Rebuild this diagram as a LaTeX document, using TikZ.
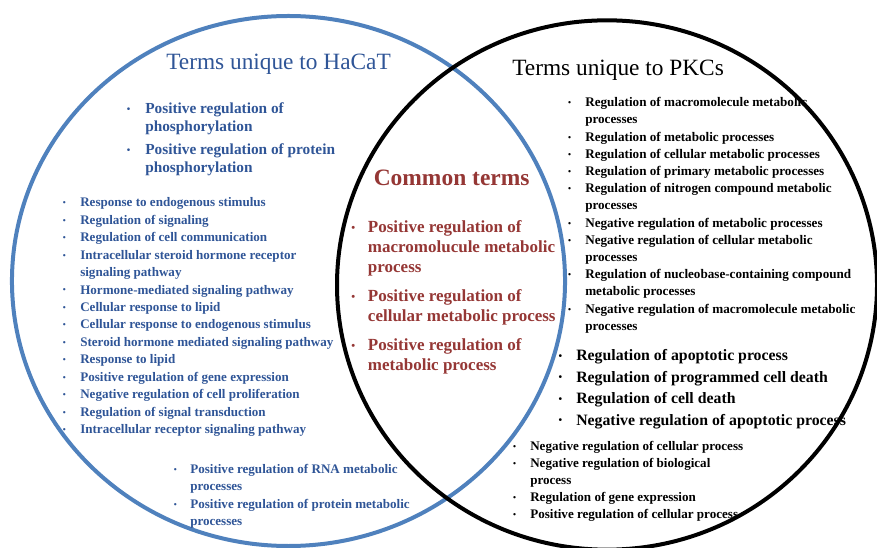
\documentclass[tikz,border=0pt]{standalone}
\usepackage{fontspec}
\setmainfont{Liberation Serif}
\usepackage{xcolor}
\definecolor{hacatline}{HTML}{4F81BD}
\definecolor{hacattext}{HTML}{2F5597}
\definecolor{commonred}{HTML}{953735}
\newcommand{\itm}[1]{\llap{\raisebox{0.08em}{\scalebox{0.65}{\textbullet}}\hspace{#1}}}

\begin{document}
\begin{tikzpicture}[
    x=0.75pt, y=-0.75pt,
    venn/.style={line width=3pt},
    heading/.style={anchor=base west, inner sep=0pt, font=\fontsize{17.5}{21}\selectfont},
    terms/.style={anchor=base west, inner sep=0pt},
    smallterms/.style={terms, font=\fontsize{9.8}{13.1}\selectfont\bfseries},
    midterms/.style={terms, font=\fontsize{11.5}{13.5}\selectfont\bfseries},
    bigterms/.style={terms, font=\fontsize{11.85}{16.1}\selectfont\bfseries},
    commonterms/.style={terms, text=commonred, font=\fontsize{12.75}{15}\selectfont\bfseries}
]
\useasboundingbox (0,0) rectangle (877,548);

% Circles
\draw[venn, hacatline] (288.5,281) ellipse [x radius=207.4pt, y radius=198.75pt];
\draw[venn, black] (607,285) ellipse [x radius=202.5pt, y radius=198.5pt];

% Headings
\node[heading, text=hacattext] (hacat) at (166,69.3) {Terms unique to HaCaT};
\node[heading] (pkc) at (512,76) {Terms unique to PKCs};
\node[heading, text=commonred, font=\fontsize{17.6}{21}\selectfont\bfseries] (common) at (373.5,186) {Common terms};

% HaCaT terms
\node[midterms, text=hacattext] (hacatphos) at (145,114) {\begin{tabular}[t]{@{}l@{}}
\itm{11.2pt}Positive regulation of\\
phosphorylation\\[3.75pt]
\itm{11.2pt}Positive regulation of protein\\
phosphorylation
\end{tabular}};
\node[smallterms, text=hacattext, font=\fontsize{9.8}{13.1}\selectfont\bfseries] (hacatsig) at (80,206.7) {\begin{tabular}[t]{@{}l@{}}
\itm{10.8pt}Response to endogenous stimulus\\
\itm{10.8pt}Regulation of signaling\\
\itm{10.8pt}Regulation of cell communication\\
\itm{10.8pt}Intracellular steroid hormone receptor\\
signaling pathway\\
\itm{10.8pt}Hormone-mediated signaling pathway\\
\itm{10.8pt}Cellular response to lipid\\
\itm{10.8pt}Cellular response to endogenous stimulus\\
\itm{10.8pt}Steroid hormone mediated signaling pathway\\
\itm{10.8pt}Response to lipid\\
\itm{10.8pt}Positive regulation of gene expression\\
\itm{10.8pt}Negative regulation of cell proliferation\\
\itm{10.8pt}Regulation of signal transduction\\
\itm{10.8pt}Intracellular receptor signaling pathway
\end{tabular}};
\node[smallterms, text=hacattext] (hacatmeta) at (190,473.3) {\begin{tabular}[t]{@{}l@{}}
\itm{10pt}Positive regulation of RNA metabolic\\
processes\\
\itm{10pt}Positive regulation of protein metabolic\\
processes
\end{tabular}};

% Common terms
\node[commonterms] (commonlist) at (367.7,232.7) {\begin{tabular}[t]{@{}l@{}}
\itm{9.6pt}Positive regulation of\\
macromolucule metabolic\\
process\\[6.75pt]
\itm{9.6pt}Positive regulation of\\
cellular metabolic process\\[6.75pt]
\itm{9.6pt}Positive regulation of\\
metabolic process
\end{tabular}};

% PKC terms
\node[smallterms, font=\fontsize{9.85}{12.9}\selectfont\bfseries] (pkcmeta) at (585,106.7) {\begin{tabular}[t]{@{}l@{}}
\itm{10.6pt}Regulation of macromolecule metabolic\\
processes\\
\itm{10.6pt}Regulation of metabolic processes\\
\itm{10.6pt}Regulation of cellular metabolic processes\\
\itm{10.6pt}Regulation of primary metabolic processes\\
\itm{10.6pt}Regulation of nitrogen compound metabolic\\
processes\\
\itm{10.6pt}Negative regulation of metabolic processes\\
\itm{10.6pt}Negative regulation of cellular metabolic\\
processes\\
\itm{10.6pt}Regulation of nucleobase-containing compound\\
metabolic processes\\
\itm{10.6pt}Negative regulation of macromolecule metabolic\\
processes
\end{tabular}};
\node[bigterms] (pkcdeath) at (576,360.7) {\begin{tabular}[t]{@{}l@{}}
\itm{10.5pt}Regulation of apoptotic process\\
\itm{10.5pt}Regulation of programmed cell death\\
\itm{10.5pt}Regulation of cell death\\
\itm{10.5pt}Negative regulation of apoptotic process
\end{tabular}};
\node[smallterms, font=\fontsize{9.8}{12.7}\selectfont\bfseries] (pkccell) at (530,450.7) {\begin{tabular}[t]{@{}l@{}}
\itm{10.6pt}Negative regulation of cellular process\\
\itm{10.6pt}Negative regulation of biological\\
process\\
\itm{10.6pt}Regulation of gene expression\\
\itm{10.6pt}Positive regulation of cellular process
\end{tabular}};
\end{tikzpicture}
\end{document}
